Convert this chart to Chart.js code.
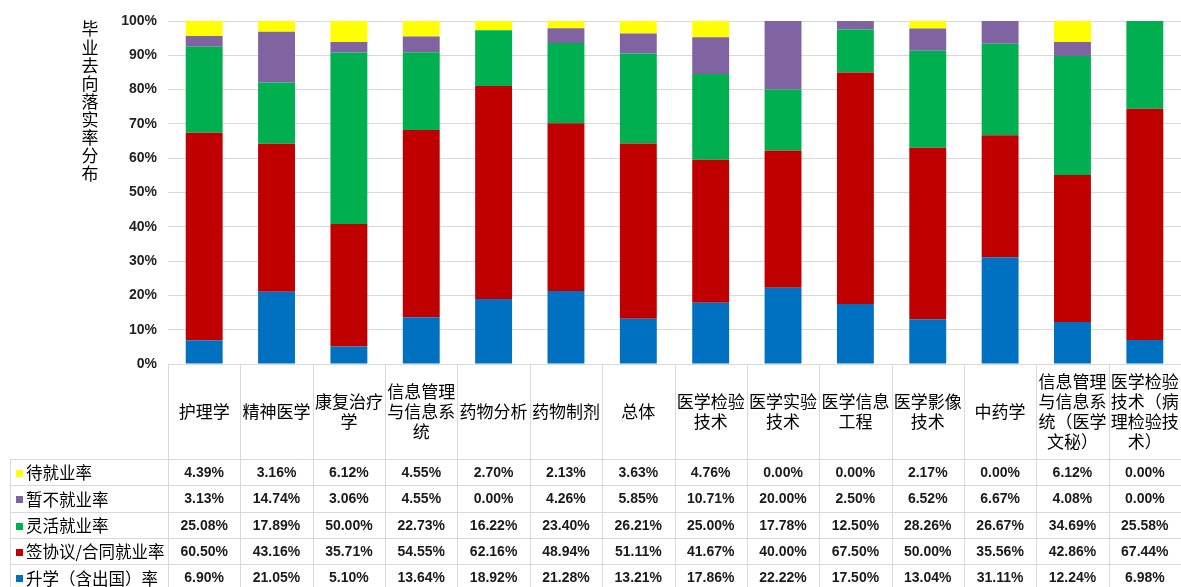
<!DOCTYPE html>
<html><head><meta charset="utf-8">
<script src="https://cdn.jsdelivr.net/npm/chart.js@4/dist/chart.umd.min.js"></script>
<style>html,body{margin:0;padding:0;background:#fff;overflow:hidden}</style>
</head><body>
<canvas id="c" width="1181" height="587" style="display:block;width:1181px;height:587px"></canvas>
<script>
const categories = ["护理学","精神医学","康复治疗学","信息管理与信息系统","药物分析","药物制剂","总体","医学检验技术","医学实验技术","医学信息工程","医学影像技术","中药学","信息管理与信息系统（医学文秘）","医学检验技术（病理检验技术）"];
const yTitle = "毕业去向落实率分布";
const yTicks = [0,10,20,30,40,50,60,70,80,90,100];

// stacked bottom to top
const nameShengxue = "升学（含出国）率";
const shengxue = [6.90,21.05,5.10,13.64,18.92,21.28,13.21,17.86,22.22,17.50,13.04,31.11,12.24,6.98];
const nameQianyue = "签协议/合同就业率";
const qianyue = [60.50,43.16,35.71,54.55,62.16,48.94,51.11,41.67,40.00,67.50,50.00,35.56,42.86,67.44];
const nameLinghuo = "灵活就业率";
const linghuo = [25.08,17.89,50.00,22.73,16.22,23.40,26.21,25.00,17.78,12.50,28.26,26.67,34.69,25.58];
const nameZanbu = "暂不就业率";
const zanbu = [3.13,14.74,3.06,4.55,0.00,4.26,5.85,10.71,20.00,2.50,6.52,6.67,4.08,0.00];
const nameDai = "待就业率";
const dai = [4.39,3.16,6.12,4.55,2.70,2.13,3.63,4.76,0.00,0.00,2.17,0.00,6.12,0.00];

const seriesColors = ["#0070C0","#C00000","#00B050","#8064A2","#FFFF00"];

const datasets = [
  {label:nameShengxue, data:shengxue},
  {label:nameQianyue, data:qianyue},
  {label:nameLinghuo, data:linghuo},
  {label:nameZanbu, data:zanbu},
  {label:nameDai, data:dai}
].map((d,i)=>Object.assign(d,{backgroundColor:seriesColors[i],borderWidth:0,barPercentage:0.51,categoryPercentage:1}));

function wrap4(s){const a=[...s];const out=[];for(let i=0;i<a.length;i+=4)out.push(a.slice(i,i+4).join(''));return out;}

const lineColor = '#d9d9d9';
const tablePlugin = {
  id:'tablePlugin',
  afterDraw(chart){
    const ctx=chart.ctx, xs=chart.scales.x, a=chart.chartArea;
    const n=categories.length, w=(a.right-a.left)/n;
    const headTop=a.bottom, headBot=459, rowH=26.3, H=chart.height;
    ctx.save();
    ctx.strokeStyle=lineColor; ctx.lineWidth=1;
    const L=(x1,y1,x2,y2)=>{ctx.beginPath();ctx.moveTo(x1,y1);ctx.lineTo(x2,y2);ctx.stroke();};
    for(let k=0;k<=n;k++){const xx=Math.round(a.left+k*w)+0.5;L(xx,headTop,xx,H);}
    for(let r=0;r<=5;r++){const y=Math.round(headBot+r*rowH)+0.5;L(10,y,a.right,y);}
    L(10.5,headBot,10.5,H);
    // header category labels
    ctx.fillStyle='#000';
    ctx.font='17px "Noto Sans CJK SC"';
    ctx.textAlign='center'; ctx.textBaseline='middle';
    categories.forEach((c,i)=>{
      const cx=xs.getPixelForValue(i);
      const lines=wrap4(c), lh=20;
      const y0=(headTop+headBot)/2-(lines.length-1)*lh/2;
      lines.forEach((l,j)=>ctx.fillText(l,cx,y0+j*lh));
    });
    // data rows (top to bottom reverse of stack)
    const rows=chart.data.datasets.slice().reverse();
    rows.forEach((ds,r)=>{
      const cy=headBot+(r+0.5)*rowH;
      ctx.fillStyle=ds.backgroundColor;
      ctx.fillRect(16,Math.round(cy-2),7,7);
      ctx.fillStyle='#000';
      ctx.font='16.5px "Noto Sans CJK SC"';
      ctx.textAlign='left';
      ctx.fillText(ds.label,26,cy+1);
      ctx.font='bold 14px "Liberation Sans"';
      ctx.textAlign='center';
      ctx.fillStyle='#1a1a1a';
      ds.data.forEach((v,i)=>ctx.fillText(v.toFixed(2)+'%',xs.getPixelForValue(i),cy+1));
    });
    // y axis title, stacked upright characters
    ctx.font='17px "Noto Sans CJK SC"';
    ctx.fillStyle='#000';
    ctx.textAlign='center';
    [...yTitle].forEach((ch,i)=>ctx.fillText(ch,90,29+i*18.1));
    ctx.restore();
  }
};

new Chart(document.getElementById('c'),{
  type:'bar',
  data:{labels:categories,datasets:datasets},
  options:{
    responsive:false,animation:false,
    layout:{padding:{left:0,right:0,top:21,bottom:223}},
    plugins:{legend:{display:false},tooltip:{enabled:false}},
    scales:{
      x:{stacked:true,display:false},
      y:{stacked:true,min:0,max:100,
        afterFit(s){s.width=168;},
        afterBuildTicks(s){s.ticks=yTicks.map(v=>({value:v}));},
        grid:{color:lineColor,drawTicks:false},
        border:{display:false},
        ticks:{padding:11,color:'#222',font:{family:'"Liberation Sans"',size:14,weight:'bold'},callback:v=>v+'%'}
      }
    }
  },
  plugins:[tablePlugin]
});
</script>
</body></html>
